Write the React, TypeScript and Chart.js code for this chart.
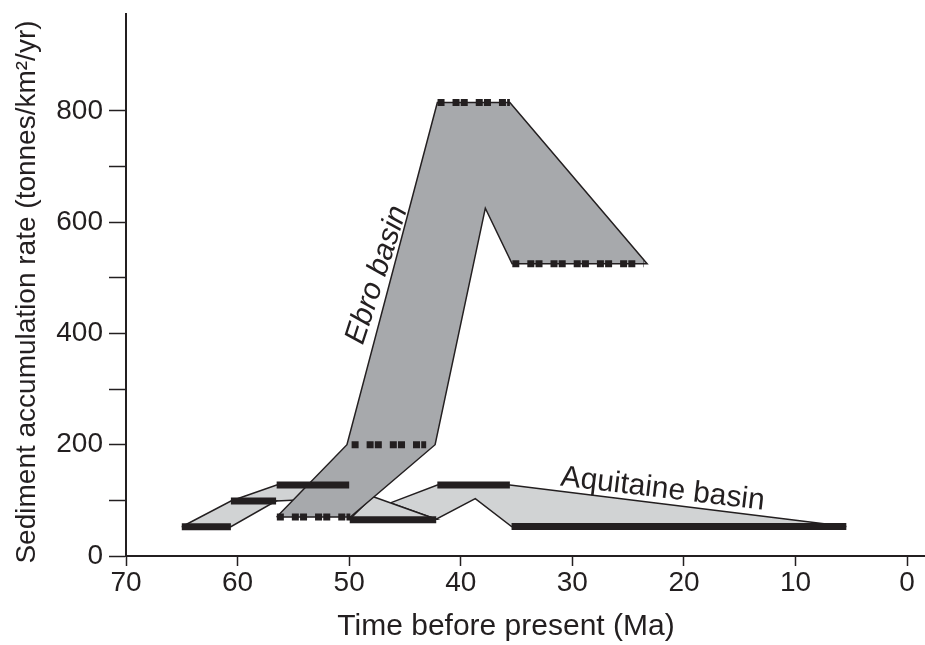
import React, { useEffect, useRef } from 'react';
import { Chart, registerables } from 'chart.js';

Chart.register(...registerables);

// ---- axis ticks ----
const xTicks = [70, 60, 50, 40, 30, 20, 10, 0];
const yTicks = [0, 100, 200, 300, 400, 500, 600, 700, 800];
const yLabelled = [0, 200, 400, 600, 800];

// ---- Ebro basin envelope [age Ma, rate] ----
const ebroEnvelope = [
  [56.5, 70], [50.2, 200], [42.1, 815], [35.6, 815], [23.3, 525],
  [35.4, 525], [37.8, 625], [42.3, 200], [49.9, 70],
];
// Ebro dashed interval bars [from Ma, to Ma, rate]
const ebroBars = [
  [56.5, 49.9, 70],
  [49.8, 43.1, 200],
  [42.1, 35.6, 815],
  [35.4, 23.6, 525],
];

// ---- Aquitaine basin envelopes [age Ma, rate] ----
const aquiPoly1 = [[65.0, 52.6], [60.6, 98.8], [56.55, 98.8], [60.6, 52.6]];
const aquiPoly2 = [[60.6, 98.8], [56.5, 127.6], [50.0, 127.6], [47.9, 107], [56.55, 98.8]];
const aquiPoly3 = [[47.9, 107], [42.2, 66], [49.95, 66]];
const aquiPoly4 = [
  [46.3, 95.5], [42.1, 127.6], [35.6, 127.6], [5.45, 53],
  [35.45, 53], [38.7, 103], [42.2, 66],
];
// Aquitaine solid interval bars [from Ma, to Ma, rate]
const aquiBars = [
  [65.0, 60.6, 52.6],
  [60.6, 56.55, 98.8],
  [56.5, 50.0, 127.6],
  [49.95, 42.2, 65.2],
  [42.1, 35.6, 127.6],
  [35.45, 5.45, 53],
];

const X_TITLE = 'Time before present (Ma)';
const Y_TITLE = 'Sediment accumulation rate (tonnes/km²/yr)';

const INK = '#231f20';
const EBRO_FILL = '#a7a9ac';
const AQUI_FILL = '#d1d3d4';
const FONT = "'Liberation Sans', Arial, Helvetica, sans-serif";

const toPts = (arr: number[][], close: boolean) => {
  const pts = arr.map(([x, y]) => ({ x, y }));
  if (close) pts.push({ x: arr[0][0], y: arr[0][1] });
  return pts;
};

const polyDataset = (arr: number[][], fill: string, order: number) => ({
  type: 'line',
  data: toPts(arr, true),
  borderColor: INK,
  borderWidth: 1.5,
  pointRadius: 0,
  tension: 0,
  fill: false,
  showLine: true,
  borderJoinStyle: 'miter',
  polyFill: fill,
  order,
});

const barDataset = (b: number[], dashed: boolean) => ({
  type: 'line',
  data: [{ x: b[0], y: b[2] }, { x: b[1], y: b[2] }],
  borderColor: INK,
  borderWidth: 7,
  borderCapStyle: 'butt',
  borderDash: dashed ? [7, 1.2, 7, 8] : [],
  borderDashOffset: dashed ? 8 : 0,
  pointRadius: 0,
  fill: false,
  showLine: true,
  order: 1,
});

const polyFillPlugin = {
  id: 'polyFill',
  beforeDatasetDraw(chart: any, args: any) {
    const ds = chart.data.datasets[args.index];
    if (!ds.polyFill) return;
    const pts = args.meta.data;
    const ctx = chart.ctx;
    ctx.save();
    ctx.beginPath();
    pts.forEach((p: any, i: number) => (i ? ctx.lineTo(p.x, p.y) : ctx.moveTo(p.x, p.y)));
    ctx.closePath();
    ctx.fillStyle = ds.polyFill;
    ctx.fill();
    ctx.restore();
  },
};

const labelsPlugin = {
  id: 'basinLabels',
  afterDatasetsDraw(chart: any) {
    const { ctx, scales } = chart;
    const x = scales.x;
    const y = scales.y;
    ctx.save();
    ctx.fillStyle = INK;
    // Ebro basin
    ctx.save();
    ctx.translate(x.getPixelForValue(47.5), y.getPixelForValue(505));
    ctx.rotate((-72 * Math.PI) / 180);
    ctx.font = `italic 30px ${FONT}`;
    ctx.textAlign = 'center';
    ctx.textBaseline = 'middle';
    ctx.fillText('Ebro basin', 0, 0);
    ctx.restore();
    // Aquitaine basin
    ctx.save();
    ctx.translate(x.getPixelForValue(22.0), y.getPixelForValue(105));
    ctx.rotate((6.8 * Math.PI) / 180);
    ctx.font = `30px ${FONT}`;
    ctx.textAlign = 'center';
    ctx.textBaseline = 'alphabetic';
    ctx.fillText('Aquitaine basin', 0, 0);
    ctx.restore();
    ctx.restore();
  },
  afterDraw(chart: any) {
    const { ctx } = chart;
    ctx.save();
    ctx.fillStyle = INK;
    ctx.textAlign = 'center';
    ctx.textBaseline = 'middle';
    ctx.font = `30px ${FONT}`;
    ctx.fillText(X_TITLE, 506, 627);
    ctx.translate(27, 292);
    ctx.rotate(-Math.PI / 2);
    ctx.font = `28px ${FONT}`;
    ctx.fillText(Y_TITLE, 0, 0);
    ctx.restore();
  },
};

export default function App() {
  const ref = useRef<HTMLCanvasElement | null>(null);

  useEffect(() => {
    document.body.style.margin = '0';
    if (!ref.current) return;
    const datasets: any[] = [
      polyDataset(aquiPoly1, AQUI_FILL, 10),
      polyDataset(aquiPoly2, AQUI_FILL, 10),
      polyDataset(aquiPoly3, AQUI_FILL, 10),
      polyDataset(aquiPoly4, AQUI_FILL, 10),
      polyDataset(ebroEnvelope, EBRO_FILL, 5),
      ...aquiBars.map((b) => barDataset(b, false)),
      ...ebroBars.map((b) => barDataset(b, true)),
    ];
    const chart = new Chart(ref.current, {
      type: 'scatter',
      data: { datasets },
      plugins: [polyFillPlugin, labelsPlugin],
      options: {
        animation: false,
        responsive: false,
        devicePixelRatio: 1,
        layout: { padding: { top: 14, right: 0, left: 0, bottom: 0 } },
        plugins: { legend: { display: false }, tooltip: { enabled: false } },
        scales: {
          x: {
            type: 'linear',
            min: -1.6,
            max: 70,
            reverse: true,
            afterBuildTicks: (scale: any) => {
              scale.ticks = xTicks.map((v) => ({ value: v }));
            },
            afterFit: (scale: any) => {
              scale.height = 89;
              scale.paddingLeft = 0;
              scale.paddingRight = 0;
              scale.paddingTop = 0;
              scale.paddingBottom = 0;
            },
            grid: {
              drawOnChartArea: false,
              drawTicks: true,
              tickLength: 10,
              tickWidth: 1.5,
              tickColor: INK,
            },
            border: { display: true, color: INK, width: 2 },
            ticks: {
              color: INK,
              font: { family: FONT, size: 28 },
              padding: 0,
              maxRotation: 0,
              autoSkip: false,
              callback: (v: any) => String(v),
            },
          },
          y: {
            type: 'linear',
            min: 0,
            max: 974,
            afterBuildTicks: (scale: any) => {
              scale.ticks = yTicks.map((v) => ({ value: v }));
            },
            afterFit: (scale: any) => {
              scale.width = 126;
              scale.paddingLeft = 0;
              scale.paddingRight = 0;
              scale.paddingTop = 0;
              scale.paddingBottom = 0;
            },
            grid: {
              drawOnChartArea: false,
              drawTicks: true,
              tickLength: 17,
              tickWidth: 1.5,
              tickColor: INK,
            },
            border: { display: true, color: INK, width: 2 },
            ticks: {
              color: INK,
              font: { family: FONT, size: 28 },
              padding: 6,
              autoSkip: false,
              callback: (v: any) => (yLabelled.includes(Number(v)) ? String(v) : ''),
            },
          },
        },
      } as any,
    });
    return () => chart.destroy();
  }, []);

  return (
    <div style={{ width: 925, height: 645 }}>
      <canvas ref={ref} width={925} height={645} />
    </div>
  );
}
